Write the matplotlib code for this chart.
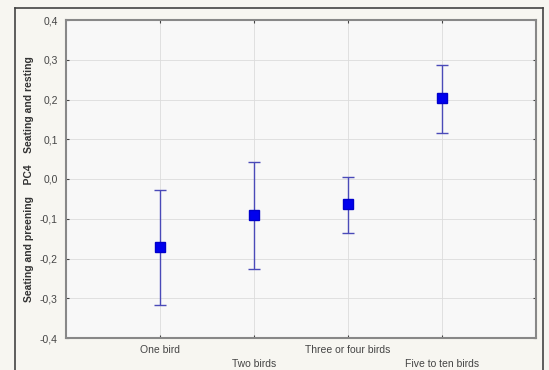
import matplotlib
matplotlib.use("Agg")
import matplotlib.pyplot as plt
from matplotlib.lines import Line2D

plt.rcParams['font.family'] = ['Liberation Sans', 'DejaVu Sans']

categories = ["One bird", "Two birds", "Three or four birds", "Five to ten birds"]
means = [-0.171, -0.091, -0.063, 0.203]
upper = [-0.028, 0.043, 0.005, 0.288]
lower = [-0.316, -0.226, -0.135, 0.116]
yticks = [-0.4, -0.3, -0.2, -0.1, 0.0, 0.1, 0.2, 0.3, 0.4]
ytick_labels = ["-0,4", "-0,3", "-0,2", "-0,1", "0,0", "0,1", "0,2", "0,3", "0,4"]

fig = plt.figure(figsize=(5.49, 3.70), dpi=100)
fig.patch.set_facecolor("#f7f6f1")

# outer frame
fig.add_artist(Line2D([15/549, 15/549], [0, 1-8/370], transform=fig.transFigure, color="#444444", lw=1.2))
fig.add_artist(Line2D([15/549, 543/549], [1-8/370, 1-8/370], transform=fig.transFigure, color="#444444", lw=1.2))
fig.add_artist(Line2D([543/549, 543/549], [0, 1-8/370], transform=fig.transFigure, color="#444444", lw=1.2))

ax = fig.add_axes([66/549, 32/370, 470/549, 318/370])
ax.set_facecolor("#f8f8f8")

x = list(range(len(categories)))
yerr_lo = [m - l for m, l in zip(means, lower)]
yerr_hi = [u - m for m, u in zip(means, upper)]
ax.errorbar(x, means, yerr=[yerr_lo, yerr_hi], fmt="s", color="#0000ee",
            ecolor="#4a4ab8", elinewidth=1.0, capsize=4.5, capthick=1.0,
            markersize=7, markeredgecolor="#0000cc", zorder=3)

ax.set_xlim(-1, 4)
ax.set_ylim(-0.4, 0.4)
ax.set_yticks(yticks)
ax.set_yticklabels(ytick_labels)
ax.set_xticks(x)
ax.set_xticklabels(categories)
for i, lab in enumerate(ax.get_xticklabels()):
    if i % 2 == 1:
        lab.set_y(-0.045)

ax.grid(True, color="#dcdcdc", linestyle="-", linewidth=0.6)
ax.tick_params(axis="both", labelsize=7.5, colors="#444444", length=2, direction="in",
               labelcolor="#444444")
ax.tick_params(axis="y", pad=6)
ax.tick_params(axis="x", pad=5)
ax.yaxis.set_ticks_position("both")
ax.xaxis.set_ticks_position("both")
for s in ax.spines.values():
    s.set_color("#888888")
    s.set_linewidth(1.5)

ax.set_ylabel("Seating and preening    PC4    Seating and resting", fontsize=7.5,
              fontweight="bold", color="#333333", labelpad=4)

fig.savefig("out.png", dpi=100, facecolor=fig.get_facecolor())
